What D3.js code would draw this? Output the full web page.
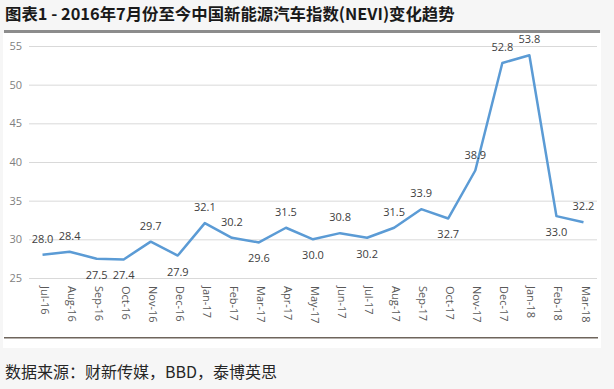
<!DOCTYPE html>
<html>
<head>
<meta charset="utf-8">
<script src="https://cdn.jsdelivr.net/npm/d3@7"></script>
<style>
  body { margin: 0; background: #f6f6f6; }
  svg { display: block; }
</style>
</head>
<body>
<div id="chart"></div>
<script>
var months = ["Jul-16", "Aug-16", "Sep-16", "Oct-16", "Nov-16", "Dec-16", "Jan-17", "Feb-17",
              "Mar-17", "Apr-17", "May-17", "Jun-17", "Jul-17", "Aug-17", "Sep-17", "Oct-17",
              "Nov-17", "Dec-17", "Jan-18", "Feb-18", "Mar-18"];
var nevi = [28.0, 28.4, 27.5, 27.4, 29.7, 27.9, 32.1, 30.2, 29.6, 31.5, 30.0, 30.8, 30.2, 31.5,
            33.9, 32.7, 38.9, 52.8, 53.8, 33.0, 32.2];
// which labels sit under the point (1) or above it (0)
var labelBelow = [0, 0, 1, 1, 0, 1, 0, 0, 1, 0, 1, 0, 1, 0, 0, 1, 0, 0, 0, 1, 0];
var yTicks = [25, 30, 35, 40, 45, 50, 55];

var width = 614, height = 389;
var svg = d3.select("#chart").append("svg")
    .attr("width", width)
    .attr("height", height);

var cjk = "'Noto Sans CJK SC', 'Noto Sans', sans-serif";

// white panel
svg.append("rect")
    .attr("x", 3).attr("y", 33)
    .attr("width", 598).attr("height", 315)
    .attr("fill", "#ffffff");

svg.append("text")
    .attr("x", 5).attr("y", 20)
    .attr("font-family", cjk)
    .attr("font-weight", "bold")
    .attr("font-size", 16.4)
    .attr("fill", "#1a1a1a")
    .text("图表1 - 2016年7月份至今中国新能源汽车指数(NEVI)变化趋势");

svg.append("rect")
    .attr("x", 4).attr("y", 30)
    .attr("width", 596).attr("height", 3)
    .attr("fill", "#8c8c8c");

var x = d3.scaleBand()
    .domain(months)
    .range([29, 597]);

var y = d3.scaleLinear()
    .domain([25, 55])
    .range([278, 46]);

// grid + y labels
var yAxis = svg.append("g")
    .attr("transform", "translate(29,0)")
    .call(d3.axisLeft(y).tickValues(yTicks).tickSize(-568).tickPadding(7));
yAxis.select(".domain").remove();
yAxis.selectAll(".tick line").attr("stroke", "#d9d9d9");
yAxis.selectAll(".tick text")
    .attr("fill", "#7f7f7f")
    .attr("font-family", "'Open Sans', sans-serif")
    .attr("font-size", 11);

// x labels, rotated
var xAxis = svg.append("g")
    .attr("transform", "translate(0,278)")
    .call(d3.axisBottom(x).tickSize(0));
xAxis.select(".domain").remove();
xAxis.selectAll(".tick text")
    .attr("fill", "#595959")
    .attr("font-family", "'Open Sans', sans-serif")
    .attr("font-size", 11)
    .attr("text-anchor", "start")
    .attr("dy", null)
    .attr("transform", "translate(4,8) rotate(90)")
    .attr("dominant-baseline", "middle");

var line = d3.line()
    .x(function (d, i) { return x(months[i]) + x.bandwidth() / 2; })
    .y(function (d) { return y(d); });

svg.append("path")
    .datum(nevi)
    .attr("d", line)
    .attr("fill", "none")
    .attr("stroke", "#5b9bd5")
    .attr("stroke-width", 2.5)
    .attr("stroke-linejoin", "round");

svg.append("g").selectAll("text")
    .data(nevi)
    .enter()
    .append("text")
    .attr("x", function (d, i) { return x(months[i]) + x.bandwidth() / 2; })
    .attr("y", function (d, i) { return y(d) + (labelBelow[i] ? 20 : -12); })
    .attr("text-anchor", "middle")
    .attr("font-family", "'Open Sans', sans-serif")
    .attr("font-size", 11)
    .attr("fill", "#404040")
    .text(function (d) { return d.toFixed(1); });

// bottom rule
svg.append("rect")
    .attr("x", 4).attr("y", 337)
    .attr("width", 594).attr("height", 1.5)
    .attr("fill", "#6e655c");

svg.append("text")
    .attr("x", 5).attr("y", 378)
    .attr("font-family", cjk)
    .attr("font-size", 16)
    .attr("fill", "#262626")
    .text("数据来源：财新传媒，BBD，泰博英思");
</script>
</body>
</html>
